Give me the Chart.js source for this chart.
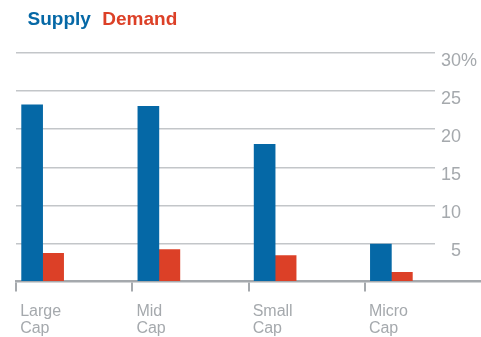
<!DOCTYPE html>
<html>
<head>
<meta charset="utf-8">
<script src="https://cdn.jsdelivr.net/npm/chart.js@4"></script>
<style>
  html, body { margin: 0; padding: 0; background: #fff; }
  #wrap { width: 481px; height: 337px; position: relative; }
</style>
</head>
<body>
<div id="wrap"><canvas id="chart"></canvas></div>
<script>
const categories = [["Large", "Cap"], ["Mid", "Cap"], ["Small", "Cap"], ["Micro", "Cap"]];
const supply = [23.2, 23.0, 18.0, 4.9];
const demand = [3.7, 4.2, 3.4, 1.2];
const yTicks = [0, 5, 10, 15, 20, 25, 30];

const BLUE = "#0568a6";
const RED = "#dc4027";
const GREY = "#a5a9ad";

// bars sit at the left of each category band, so pad the group with empty slots
const spacer = () => ({ label: "", data: [], barThickness: 21 });

new Chart(document.getElementById("chart"), {
  type: "bar",
  data: {
    labels: categories,
    datasets: [
      { label: "Supply", data: supply, backgroundColor: BLUE, barThickness: 21 },
      { label: "Demand", data: demand, backgroundColor: RED, barThickness: 21 },
      spacer(), spacer(), spacer(),
    ],
  },
  options: {
    responsive: true,
    maintainAspectRatio: false,
    animation: false,
    layout: { padding: { left: 16, right: 0, top: 0, bottom: 0 } },
    plugins: {
      tooltip: { enabled: false },
      legend: {
        position: "top",
        align: "start",
        labels: {
          font: { family: "Liberation Sans, Arial, sans-serif", size: 19, weight: "bold" },
          boxWidth: 5,
          boxHeight: 46,
          padding: -3,
          generateLabels: (chart) =>
            chart.data.datasets.slice(0, 2).map((ds, i) => ({
              text: ds.label,
              fontColor: ds.backgroundColor,
              fillStyle: "transparent",
              strokeStyle: "transparent",
              lineWidth: 0,
              datasetIndex: i,
            })),
        },
      },
    },
    scales: {
      x: {
        fullSize: true,
        offset: true,
        afterFit: (scale) => { scale.height = 55.5; },
        grid: {
          offset: true,
          drawOnChartArea: false,
          tickLength: 10,
          lineWidth: 2,
          color: (ctx) => (ctx.type === "tick" ? GREY : "transparent"),
        },
        border: { color: GREY, width: 2.5 },
        ticks: {
          align: "start",
          labelOffset: -54,
          padding: 12,
          maxRotation: 0,
          autoSkip: false,
          color: GREY,
          font: { family: "Liberation Sans, Arial, sans-serif", size: 16, lineHeight: 1.06 },
        },
      },
      y: {
        position: "right",
        min: 0,
        max: 30,
        afterFit: (scale) => { scale.width = 46; },
        afterBuildTicks: (scale) => { scale.ticks = yTicks.map((v) => ({ value: v })); },
        border: { display: false },
        grid: {
          drawTicks: false,
          lineWidth: 1.5,
          color: (ctx) => (ctx.tick && ctx.tick.value === 0 ? "transparent" : "#c3c6c9"),
        },
        ticks: {
          crossAlign: "near",
          padding: 6,
          labelOffset: 8,
          color: GREY,
          font: { family: "Liberation Sans, Arial, sans-serif", size: 18 },
          callback: (v) => (v === 0 ? "" : v === 30 ? "30%" : v < 10 ? "  " + v : String(v)),
        },
      },
    },
  },
});
</script>
</body>
</html>
